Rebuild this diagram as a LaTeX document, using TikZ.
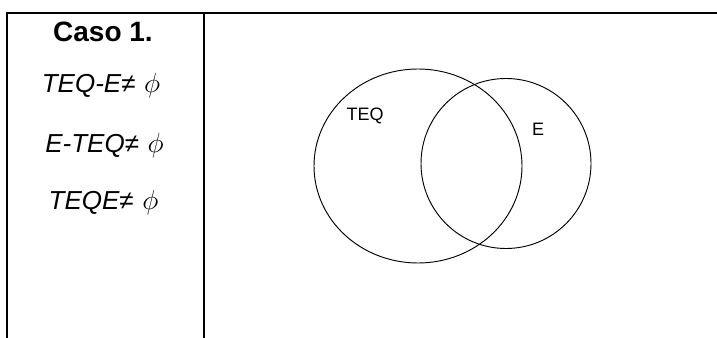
\documentclass[tikz,border=0pt]{standalone}
\usepackage{fontspec}
\setmainfont{Liberation Sans}
\usepackage{tikz}

\begin{document}
\begin{tikzpicture}[x=0.75pt,y=-0.75pt,
		casetext/.style={anchor=base,font=\fontsize{19.5}{22}\selectfont},
		setlabel/.style={anchor=base,font=\fontsize{13.5}{16}\selectfont}]
		\useasboundingbox (0,0) rectangle (717,338);
		\draw[line width=1.6pt] (7,338) -- (7,13) -- (717,13); % frame
		\draw[line width=1.6pt] (204,13) -- (204,338);
		
		\node[casetext,font=\fontsize{21}{24}\selectfont] (caso) at (103,42) {\bfseries Caso 1.};
		\node[casetext] (diffa) at (101,93) {\itshape TEQ-E≠\,\,$\phi$};
		\node[casetext] (diffb) at (104.5,153) {\itshape E-TEQ≠\,\,$\phi$};
		\node[casetext] (inter) at (103.5,210) {\itshape TEQE≠\,\,$\phi$};
		
		\draw[line width=0.7pt] (418,166) ellipse (104 and 97); % TEQ
		\draw[line width=0.7pt] (506,163.5) circle (85); % E
		\node[setlabel] (teq) at (365,121) {TEQ};
		\node[setlabel] (e) at (538,136) {E};
	\end{tikzpicture}
\end{document}
